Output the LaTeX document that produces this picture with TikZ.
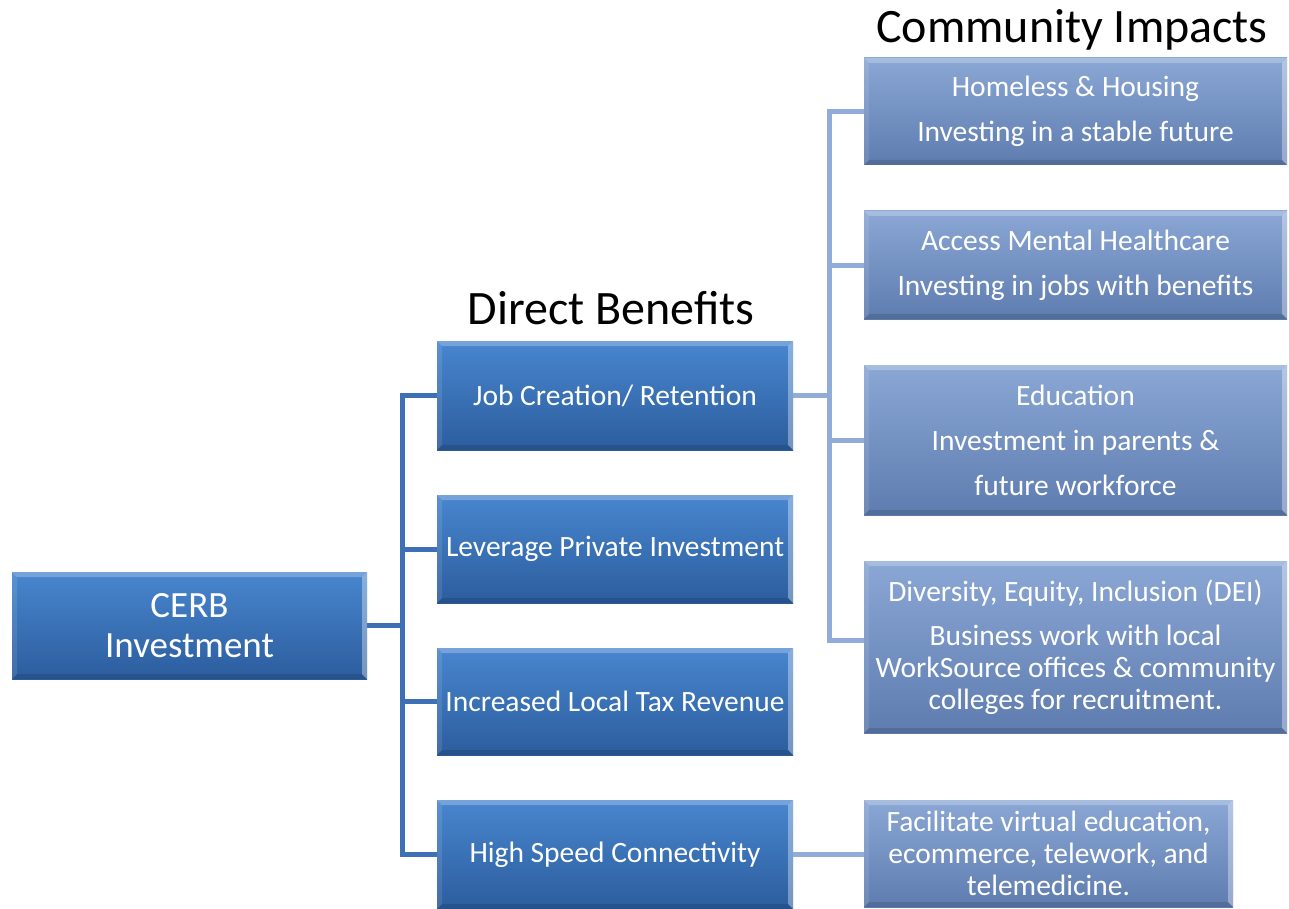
\documentclass[tikz,border=0pt]{standalone}
\usepackage{fontspec}
\setmainfont{Carlito}
\definecolor{darkTop}{RGB}{72,134,206}
\definecolor{darkBot}{RGB}{44,93,158}
\definecolor{lightTop}{RGB}{138,167,213}
\definecolor{lightBot}{RGB}{94,124,175}
\definecolor{lconnC}{RGB}{62,112,182}
\definecolor{rconnC}{RGB}{145,172,216}
\begin{document}
\begin{tikzpicture}[x=1pt,y=-1pt,
  bevel/.style={path picture={
    \fill[white,opacity=.25] (path picture bounding box.north west) -- (path picture bounding box.north east) -- ([shift={(-5pt,-5pt)}]path picture bounding box.north east) -- ([shift={(5pt,-5pt)}]path picture bounding box.north west) -- cycle;
    \fill[white,opacity=.10] (path picture bounding box.north west) -- ([shift={(5pt,-5pt)}]path picture bounding box.north west) -- ([shift={(5pt,5pt)}]path picture bounding box.south west) -- (path picture bounding box.south west) -- cycle;
    \fill[black,opacity=.12] (path picture bounding box.south west) -- (path picture bounding box.south east) -- ([shift={(-5pt,5pt)}]path picture bounding box.south east) -- ([shift={(5pt,5pt)}]path picture bounding box.south west) -- cycle;
    \fill[white,opacity=.35] (path picture bounding box.north east) -- (path picture bounding box.south east) -- ([shift={(-5pt,5pt)}]path picture bounding box.south east) -- ([shift={(-5pt,-5pt)}]path picture bounding box.north east) -- cycle;
  }},
  boxbase/.style={bevel, rectangle, text=white, inner sep=1pt, outer sep=0pt, align=center, font=\fontsize{29.5}{32}\selectfont},
  darkbox/.style={boxbase, top color=darkTop, bottom color=darkBot},
  lightbox/.style={boxbase, top color=lightTop, bottom color=lightBot},
  lconn/.style={draw=lconnC, line width=5pt},
  rconn/.style={draw=rconnC, line width=5pt},
  title/.style={font=\fontsize{48}{56}\selectfont, text=black, inner sep=0pt}
]
\useasboundingbox (0,0) rectangle (1289,909);

% titles
\node[title] (dbt) at (611,308) {Direct Benefits};
\node[title] (cit) at (1072,30) {Community Impacts};

% root
\node[darkbox, minimum width=355pt, minimum height=107pt, font=\fontsize{37}{40}\selectfont] (cerb) at (189.5,625.5) {CERB\\Investment};

% direct benefits
\node[darkbox, minimum width=356pt, minimum height=109pt] (job) at (615,395.5) {Job Creation/ Retention};
\node[darkbox, minimum width=356pt, minimum height=108pt] (lev) at (615,549) {Leverage Private Investment};
\node[darkbox, minimum width=356pt, minimum height=107pt] (tax) at (615,701.5) {Increased Local Tax Revenue};
\node[darkbox, minimum width=356pt, minimum height=109pt] (hs) at (615,854.5) {High Speed Connectivity};

% community impacts
\node[lightbox, minimum width=423pt, minimum height=107pt] (hom) at (1075.5,111.5) {Homeless \& Housing\\[13pt]Investing in a stable future};
\node[lightbox, minimum width=423pt, minimum height=108pt] (men) at (1075.5,265) {Access Mental Healthcare\\[13pt]Investing in jobs with benefits};
\node[lightbox, minimum width=423pt, minimum height=150pt] (edu) at (1075.5,440) {Education\\[13pt]Investment in parents \&\\[13pt]future workforce};
\node[lightbox, minimum width=423pt, minimum height=172pt] (dei) at (1075.5,647) {Diversity, Equity, Inclusion (DEI)\\[12pt]Business work with local\\WorkSource offices \& community\\colleges for recruitment.};
\node[lightbox, minimum width=369pt, minimum height=107pt] (fac) at (1048.5,853.5) {Facilitate virtual education,\\ecommerce, telework, and\\telemedicine.};

% connectors (left)
\coordinate (lb) at (402,0);
\draw[lconn] (cerb.east) -- (cerb.east -| lb);
\draw[lconn] (job.west) -- (job.west -| lb) -- (hs.west -| lb) -- (hs.west);
\draw[lconn] (lev.west) -- (lev.west -| lb);
\draw[lconn] (tax.west) -- (tax.west -| lb);

% connectors (right)
\coordinate (rb) at (829,0);
\coordinate (deiIn) at ([yshift=7pt]dei.west);
\draw[rconn] (job.east) -- (job.east -| rb);
\draw[rconn] (hom.west) -- (hom.west -| rb) -- (deiIn -| rb) -- (deiIn);
\draw[rconn] (men.west) -- (men.west -| rb);
\draw[rconn] (edu.west) -- (edu.west -| rb);
\draw[rconn] (hs.east) -- (hs.east -| fac.west);
\end{tikzpicture}
\end{document}
